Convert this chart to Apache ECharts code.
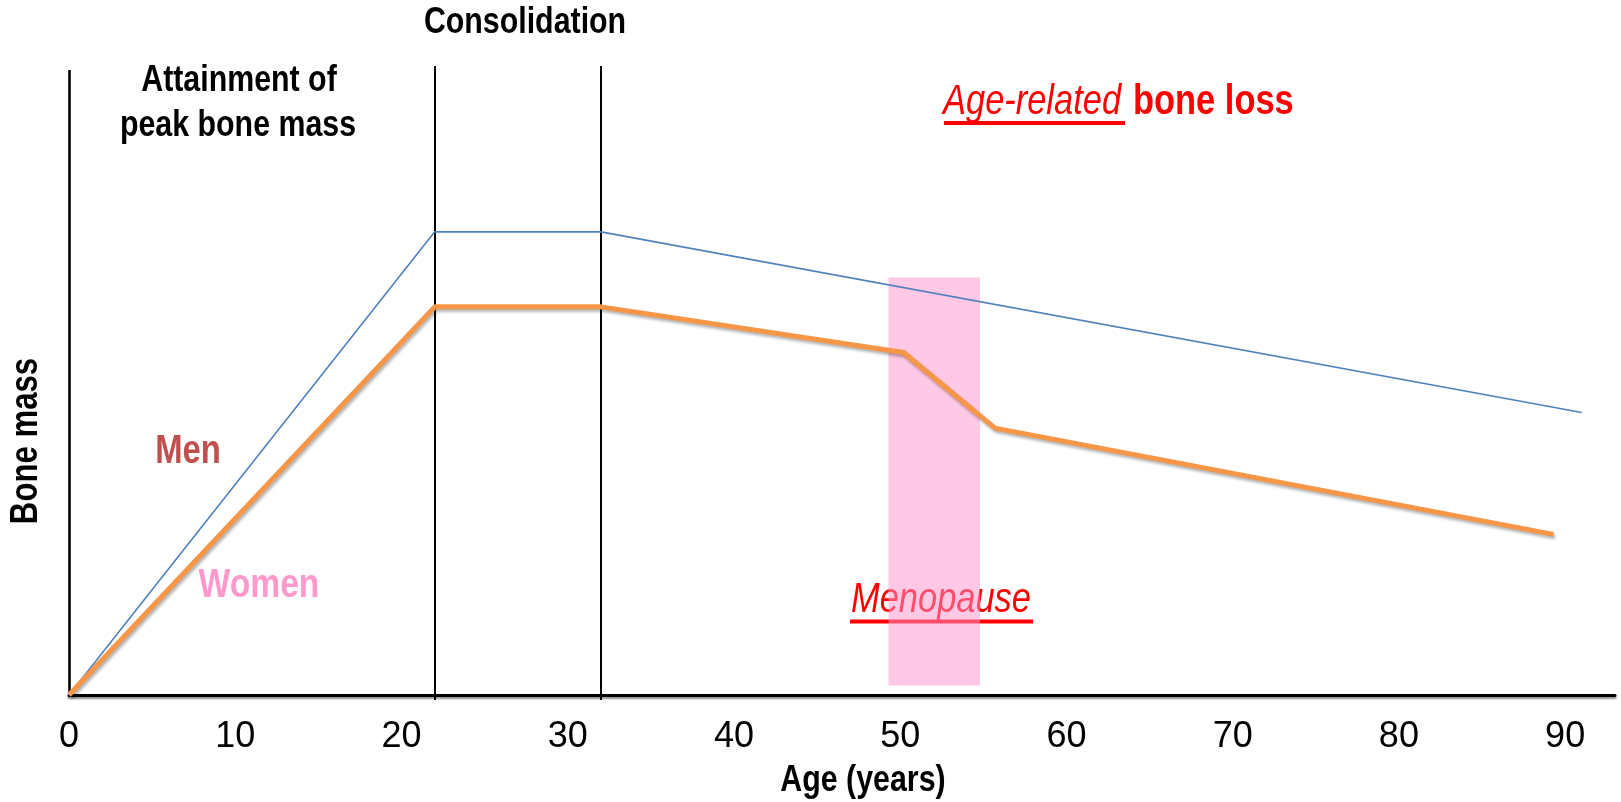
<!DOCTYPE html>
<html>
<head>
<meta charset="utf-8">
<script src="https://cdn.jsdelivr.net/npm/echarts@6/dist/echarts.min.js"></script>
<style>html,body{margin:0;padding:0;background:#fff}#c{width:1621px;height:802px}</style>
</head>
<body>
<div id="c"></div>
<script>
// ---- data (x: age in years, y: relative bone mass) ----
const xTicks = [0, 10, 20, 30, 40, 50, 60, 70, 80, 90];
const menAge = [0, 22.0, 32.0, 91.0];
const menMass = [0, 74.1, 74.1, 45.2];
const womenAge = [0, 22.0, 32.0, 50.2, 55.7, 89.3];
const womenMass = [0, 62.1, 62.1, 54.8, 42.7, 25.7];
const phaseLines = [22.0, 32.0];
const menopauseAges = [49.3, 54.8];
const menopauseMass = [1.5, 66.8];

const FONT = "'Liberation Sans',Arial,sans-serif";
const NARROW_SCALE = 0.82;
const chart = echarts.init(document.getElementById('c'), null, {renderer: 'canvas'});

function pairs(xs, ys) { return xs.map((x, i) => [x, ys[i]]); }

function txt(x, y, text, size, color, opts) {
  opts = opts || {};
  return {
    type: 'text', x: x, y: y, z: opts.z == null ? 10 : opts.z, rotation: opts.rotation || 0,
    scaleX: NARROW_SCALE, scaleY: 1,
    style: {
      text: text, fill: color, align: opts.align || 'center', verticalAlign: 'middle',
      font: (opts.italic ? 'italic ' : '') + (opts.bold ? 'bold ' : '') + size + 'px ' + FONT
    }
  };
}

const option = {
  animation: false,
  grid: {left: 69, right: 6, top: 65.6, bottom: 102},
  xAxis: {
    type: 'value', min: 0, max: 93,
    axisLine: {onZero: true, lineStyle: {color: '#000', width: 3, shadowColor: 'rgba(0,0,0,0.45)', shadowOffsetY: 2, shadowBlur: 2}},
    axisTick: {show: false},
    splitLine: {show: false},
    axisLabel: {customValues: xTicks, color: '#000', fontSize: 36, fontFamily: FONT, margin: 19}
  },
  yAxis: {
    type: 'value', min: -0.8, max: 100.7,
    axisLine: {show: false},
    axisTick: {show: false}, axisLabel: {show: false}, splitLine: {show: false}
  },
  series: [
    {
      name: 'Men', type: 'line', z: 3, symbol: 'none', clip: false,
      lineStyle: {color: '#4F81BD', width: 1.6},
      data: pairs(menAge, menMass),
      markArea: {
        silent: true, z: 1,
        itemStyle: {color: 'rgba(255,150,206,0.52)'},
        data: [[{coord: [menopauseAges[0], menopauseMass[0]]}, {coord: [menopauseAges[1], menopauseMass[1]]}]]
      },
      markLine: {
        silent: true, symbol: 'none', label: {show: false}, z: 2,
        lineStyle: {color: '#000', width: 2, type: 'solid'},
        data: [[{coord: [0, 0], lineStyle: {width: 2.6}}, {coord: [0, 100]}]]
          .concat(phaseLines.map(a => [{coord: [a, -0.8]}, {coord: [a, 100.64]}]))
      }
    },
    {
      name: 'Women', type: 'line', z: 4, symbol: 'none',
      lineStyle: {color: '#F79646', width: 5, shadowColor: 'rgba(0,0,0,0.3)', shadowBlur: 3, shadowOffsetX: 1.5, shadowOffsetY: 2.5},
      data: pairs(womenAge, womenMass)
    }
  ],
  graphic: [
    txt(525, 23, 'Consolidation', 37, '#000', {bold: true}),
    txt(239, 81, 'Attainment of', 37, '#000', {bold: true}),
    txt(238, 126, 'peak bone mass', 37, '#000', {bold: true}),
    txt(943, 102, 'Age-related', 42, '#FF0000', {italic: true, align: 'left'}),
    {type: 'rect', z: 10, shape: {x: 944, y: 121, width: 181, height: 4}, style: {fill: '#FF0000'}},
    txt(1133, 102, 'bone loss', 42, '#FF0000', {bold: true, align: 'left'}),
    txt(941, 600, 'Menopause', 42, '#FF0000', {italic: true, z: 0}),
    {type: 'rect', z: 0, shape: {x: 850, y: 619.5, width: 183, height: 4}, style: {fill: '#FF0000'}},
    txt(188, 452, 'Men', 40, '#C0504D', {bold: true}),
    txt(259, 586, 'Women', 41, '#FF99CC', {bold: true}),
    txt(863, 781, 'Age (years)', 37, '#000', {bold: true}),
    txt(27, 441, 'Bone mass', 38, '#000', {bold: true, rotation: Math.PI / 2})
  ]
};
chart.setOption(option);
</script>
</body>
</html>
